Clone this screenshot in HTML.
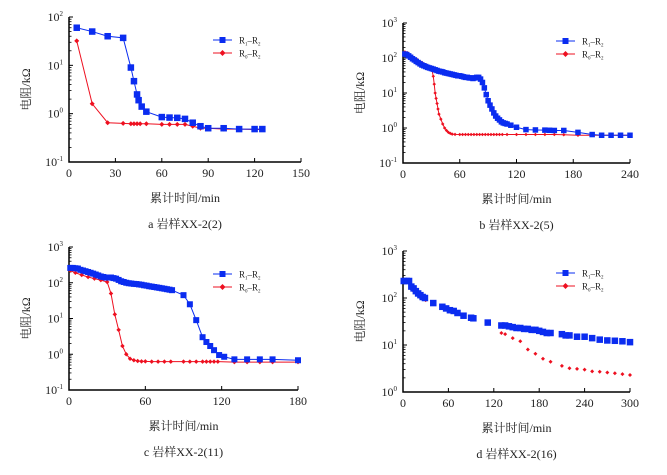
<!DOCTYPE html>
<html><head><meta charset="utf-8"><style>
body{margin:0;background:#fff}
svg text{font-family:"Liberation Serif","Noto Serif CJK SC",serif;fill:#222}
</style></head><body>
<svg id="s" width="667" height="470" viewBox="0 0 667 470" xmlns="http://www.w3.org/2000/svg"></svg>
<script>
const aR1x=[5,15,25,35,40,42,44,45,47,50,60,65,70,75,80,85,90,100,110,120,125];
const aR1y=[60,50,40,37,9,4.7,2.5,1.9,1.4,1.1,0.85,0.83,0.82,0.78,0.65,0.55,0.5,0.5,0.48,0.48,0.48];
const aR0x=[5,15,25,35,40,42,44,46,50,60,65,70,75,80,85,90,100,110,120,125];
const aR0y=[32,1.6,0.65,0.63,0.62,0.62,0.62,0.62,0.62,0.6,0.6,0.6,0.6,0.55,0.5,0.5,0.48,0.48,0.47,0.47];
const bR1x=[2,4,6,8,10,12,14,16,18,20,22,24,26,28,30,32,34,36,38,40,42,44,46,48,50,52,54,56,58,60,62,64,66,68,70,72,74,76,78,80,82,84,86,88,90,92,94,96,98,100,102,104,106,108,110,114,120,130,140,150,155,160,170,185,200,210,220,230,240];
const bR1y=[130,125,115,105,95,88,80,74,68,63,60,57,54,52,50,48,46,44,42,41,40,38,37,36,35,34,33,32,31,31,30,29,28,28,27,27,26,27,28,28,25,20,14,9,6,4.5,3.5,2.7,2.2,1.9,1.7,1.5,1.4,1.35,1.3,1.2,1.05,0.9,0.88,0.87,0.86,0.85,0.85,0.75,0.65,0.62,0.62,0.62,0.62];
const bR0x=[2,5,10,15,20,25,30,32,33,34,35,36,37,38,40,42,44,46,48,50,52,55,60,63,66,69,72,75,78,81,84,87,90,93,96,99,102,105,110,120,130,140,150,160,170,185,200,240];
const bR0y=[150,140,110,90,75,62,55,30,18,10,7,5,3.5,2.5,1.8,1.3,1,0.85,0.75,0.7,0.67,0.66,0.65,0.65,0.65,0.65,0.65,0.65,0.65,0.65,0.65,0.65,0.65,0.65,0.65,0.65,0.65,0.65,0.65,0.65,0.65,0.65,0.65,0.65,0.64,0.62,0.62,0.62];
const cR1x=[1,3,5,7,9,11,13,15,17,19,21,23,25,27,29,31,33,35,37,39,41,43,45,47,49,51,53,55,57,59,61,63,65,67,69,71,73,75,77,79,81,90,95,100,105,108,111,114,118,122,130,140,150,160,180];
const cR1y=[260,260,255,250,230,220,210,200,190,180,170,160,150,145,140,140,140,135,130,120,110,105,100,97,95,93,92,90,88,85,83,80,78,76,74,72,70,68,66,64,62,45,25,9,3,2.2,1.7,1.3,0.95,0.85,0.72,0.72,0.72,0.72,0.68];
const cR0x=[1,5,10,15,20,25,30,33,36,39,42,45,48,51,54,57,60,65,70,75,80,90,95,100,105,108,111,114,117,130,140,150,160,180];
const cR0y=[220,190,165,145,130,118,105,50,13,4.8,1.7,1,0.75,0.68,0.65,0.63,0.63,0.62,0.62,0.62,0.62,0.62,0.62,0.62,0.62,0.62,0.62,0.62,0.62,0.6,0.6,0.6,0.6,0.6];
const dR1x=[1,5,8,11,14,17,20,23,26,29,40,52,57,62,67,72,80,90,93,112,130,135,140,145,150,155,160,165,170,175,180,185,190,195,210,215,220,230,240,250,260,270,280,290,300];
const dR1y=[230,230,230,175,160,140,125,115,105,100,78,65,60,55,53,48,42,38,37,30,26,26,25,24,23,23,22,22,21,21,20,19,18,18,17,16,16,15,15,14,13,12.5,12.3,12,11.5];
const dR0x=[1,5,10,14,18,22,26,30,40,55,130,135,145,155,165,175,185,195,210,220,230,240,250,260,270,280,290,300];
const dR0y=[220,220,160,140,120,105,95,90,78,60,18,17,14,12,8,6.5,5.1,4.4,3.6,3.2,3.1,3,2.75,2.7,2.6,2.5,2.4,2.3];
const xTicksA=[0,30,60,90,120,150],xTicksB=[0,60,120,180,240],xTicksC=[0,60,120,180],xTicksD=[0,60,120,180,240,300];

const S=document.getElementById('s');const NS='http://www.w3.org/2000/svg';
function mk(t,a,p){const e=document.createElementNS(NS,t);for(const k in a)e.setAttribute(k,a[k]);(p||S).appendChild(e);return e;}
function panel(P){
 const g=mk('g',{});
 
 
 const X=v=>P.l+(v-P.x0)/(P.x1-P.x0)*(P.r-P.l);
 const Y=v=>P.b-(Math.log10(v)-P.e0)/(P.e1-P.e0)*(P.b-P.t);
 const ax=mk('path',{d:`M${P.l},${P.t}V${P.b}H${P.r}`,stroke:'#000',fill:'none','stroke-width':1.5},g);
 
 
 for(let e=P.e0;e<=P.e1;e++){
  const y=Y(Math.pow(10,e));
  mk('line',{x1:P.l,x2:P.l+4,y1:y,y2:y,stroke:'#000'},g);
  if(e<P.e1)for(let m=2;m<10;m++){const yy=Y(m*Math.pow(10,e));mk('line',{x1:P.l,x2:P.l+2.5,y1:yy,y2:yy,stroke:'#000','stroke-width':0.8},g);}
  const t=mk('text',{x:P.l-6,y:y+4,'text-anchor':'end','font-size':12},g);
  
  
  t.innerHTML='10<tspan font-size="7" dy="-5">'+e+'</tspan>';
 }
 P.xt.forEach(v=>{const x=X(v);mk('line',{x1:x,x2:x,y1:P.b,y2:P.b-4,stroke:'#000'},g);
  const t=mk('text',{x:x,y:P.b+15,'text-anchor':'middle','font-size':12},g);
  
  
  t.textContent=v;});
 const yl=mk('text',{transform:`translate(${P.l-39},${(P.t+P.b)/2}) rotate(-90)`,'text-anchor':'middle','font-size':12},g);
 
 
 yl.textContent='电阻/kΩ';
 const xl=mk('text',{x:(P.l+P.r)/2,y:P.b+40,'text-anchor':'middle','font-size':12},g);
 
 
 xl.textContent='累计时间/min';
 const cp=mk('text',{x:(P.l+P.r)/2,y:P.b+66,'text-anchor':'middle','font-size':12},g);
 
 
 cp.textContent=P.cap;
 function series(xs,ys,col,sq,sz,line,name){
  const sg=mk('g',{},g);
  
  
  if(line)mk('polyline',{points:xs.map((x,i)=>X(x)+','+Y(ys[i])).join(' '),fill:'none',stroke:col,'stroke-width':1},sg);
  xs.forEach((x,i)=>{const cx=X(x),cy=Y(ys[i]);
   if(sq)mk('rect',{x:cx-sz/2,y:cy-sz/2,width:sz,height:sz,fill:col},sg);
   else mk('path',{d:`M${cx},${cy-sz/2}L${cx+sz/2},${cy}L${cx},${cy+sz/2}L${cx-sz/2},${cy}Z`,fill:col},sg);});
 }
 series(P.r0x,P.r0y,'#ee1020',false,P.ds,P.line,'series-r0-r2');
 series(P.r1x,P.r1y,'#0a2cf0',true,P.ss,P.line,'series-r1-r2');
 [['R','1','–R','2','#0a2cf0',true],['R','0','–R','2','#ee1020',false]].forEach((L,i)=>{
  const lg=mk('g',{},g);
  
  
  const y=P.ly+i*13;
  mk('line',{x1:P.lx,x2:P.lx+19,y1:y,y2:y,stroke:L[4]},lg);
  const cx=P.lx+9.5;
  if(L[5])mk('rect',{x:cx-3,y:y-3,width:6,height:6,fill:L[4]},lg);
  else mk('path',{d:`M${cx},${y-3}L${cx+3},${y}L${cx},${y+3}L${cx-3},${y}Z`,fill:L[4]},lg);
  const t=mk('text',{x:P.lx+26,y:y+3.5,'font-size':9},lg);
  t.innerHTML=`R<tspan font-size="5" dy="2">${L[1]}</tspan><tspan dy="-2">–R</tspan><tspan font-size="5" dy="2">${L[3]}</tspan>`;
 });
}
panel({id:'a',l:69,r:301,t:17,b:162,x0:0,x1:150,e0:-1,e1:2,xt:xTicksA,r1x:aR1x,r1y:aR1y,r0x:aR0x,r0y:aR0y,ss:6.5,ds:5,line:true,lx:213,ly:40,cap:'a  岩样XX-2(2)'});
panel({id:'b',l:403,r:630,t:23,b:163,x0:0,x1:240,e0:-1,e1:3,xt:xTicksB,r1x:bR1x,r1y:bR1y,r0x:bR0x,r0y:bR0y,ss:5.5,ds:3.5,line:true,lx:556,ly:41,cap:'b  岩样XX-2(5)'});
panel({id:'c',l:69,r:298,t:247,b:390,x0:0,x1:180,e0:-1,e1:3,xt:xTicksC,r1x:cR1x,r1y:cR1y,r0x:cR0x,r0y:cR0y,ss:6,ds:4.5,line:true,lx:213,ly:274,cap:'c  岩样XX-2(11)'});
panel({id:'d',l:403,r:630,t:251,b:392,x0:0,x1:300,e0:0,e1:3,xt:xTicksD,r1x:dR1x,r1y:dR1y,r0x:dR0x,r0y:dR0y,ss:6.5,ds:4,line:false,lx:556,ly:273,cap:'d  岩样XX-2(16)'});
</script>
</body></html>
